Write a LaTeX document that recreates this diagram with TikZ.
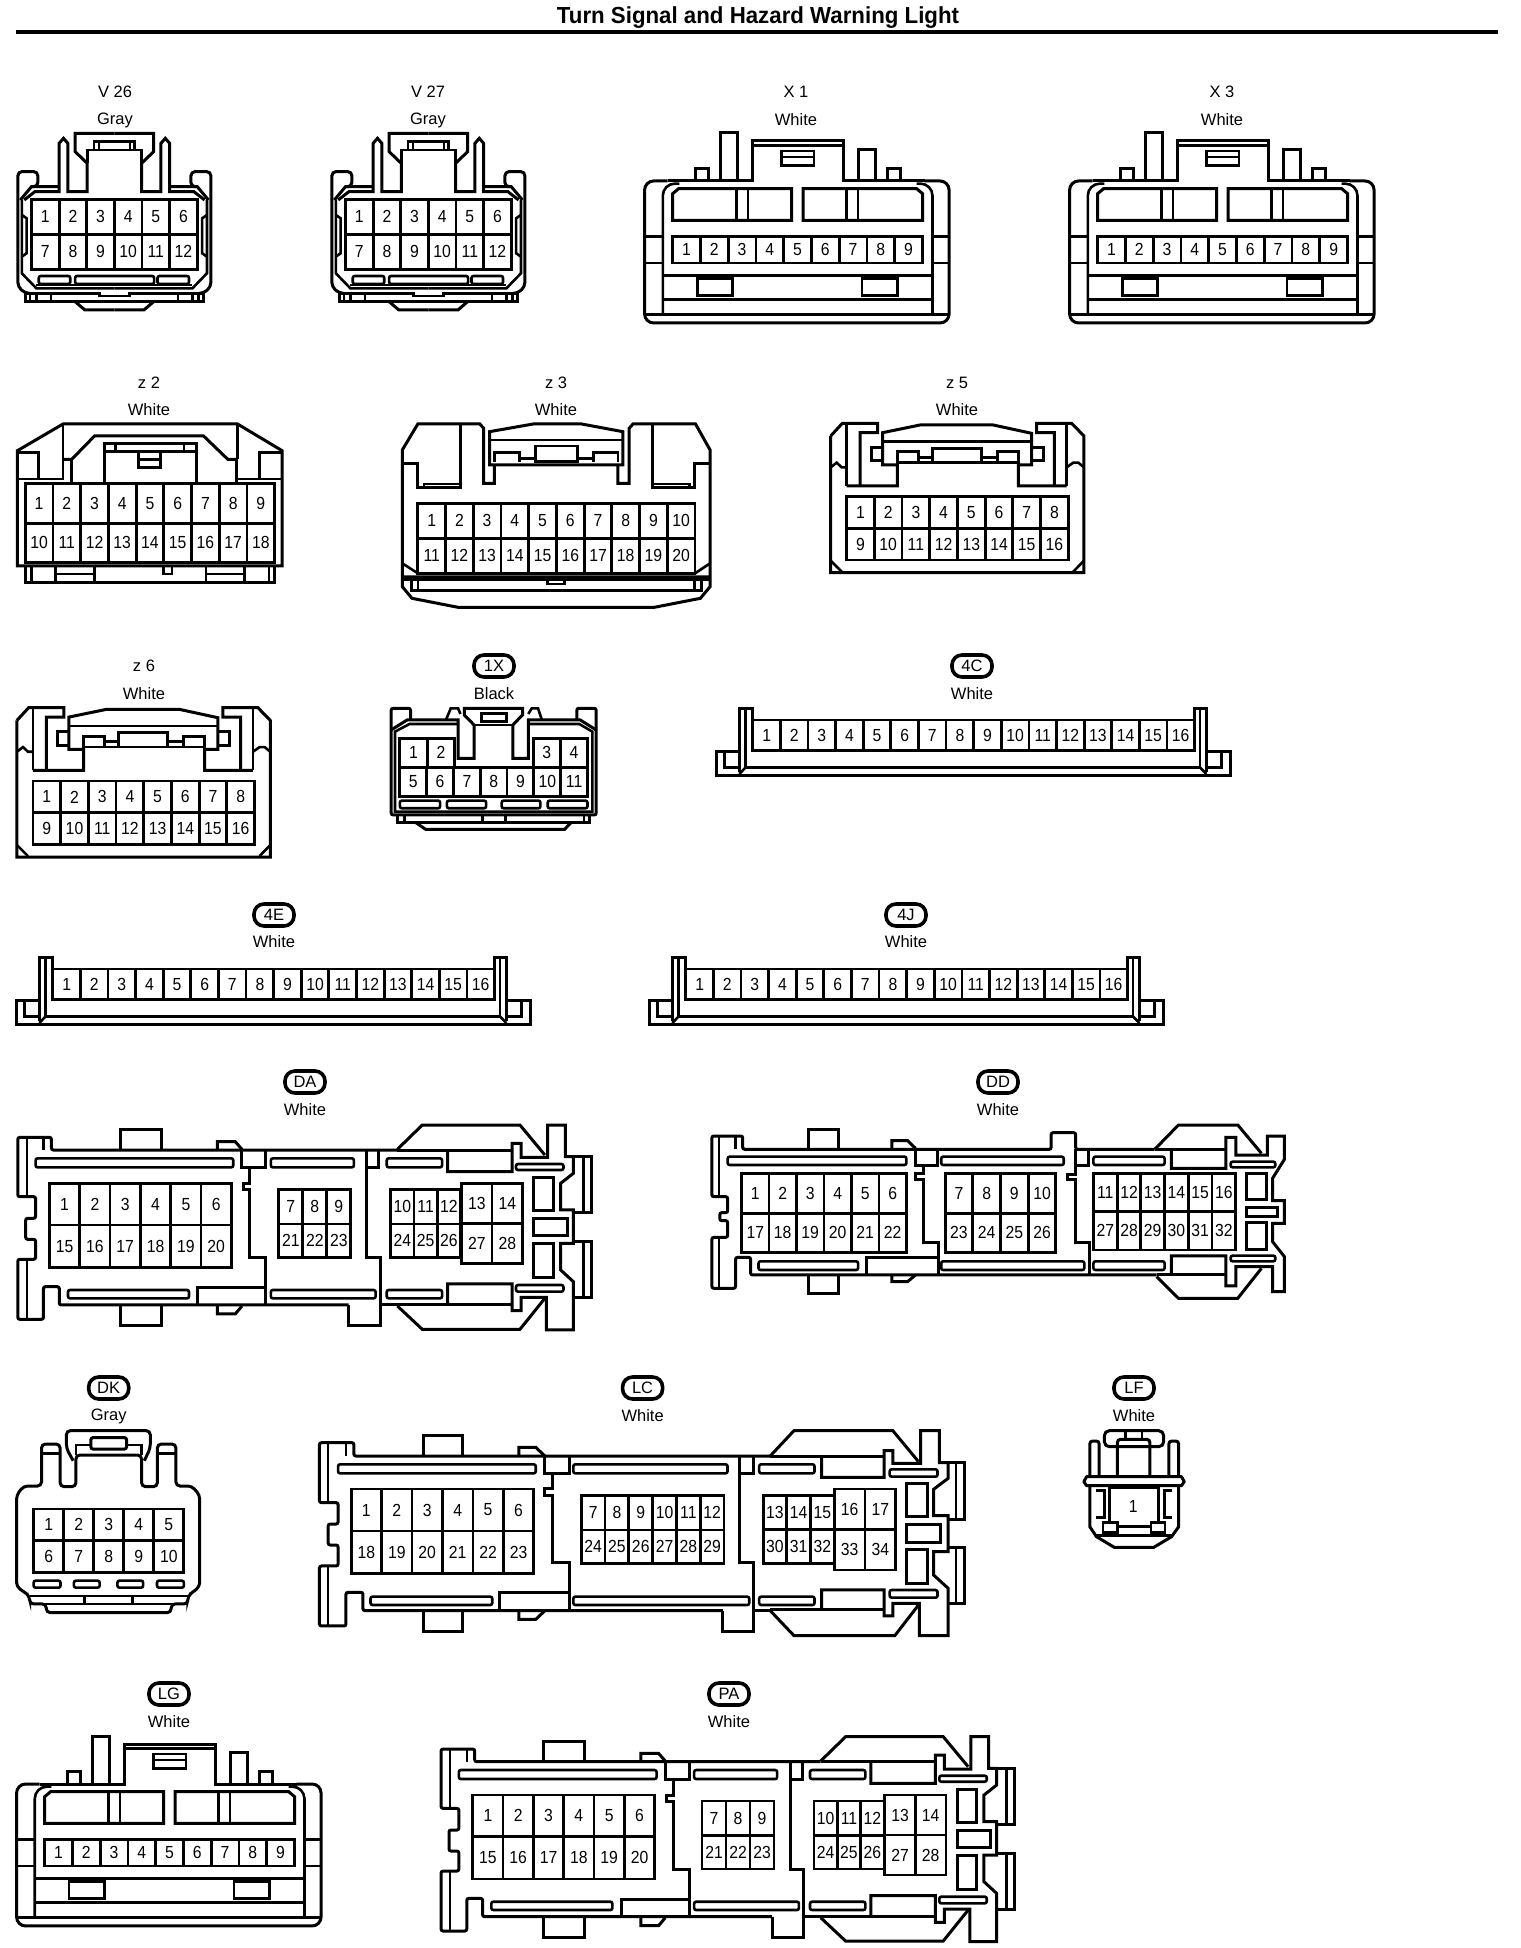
\documentclass[tikz,border=0pt]{standalone}
\usepackage{fontspec}
\setmainfont{Liberation Sans}
\newfontfamily\pinfont[FakeStretch=0.9]{Liberation Sans}
\newfontfamily\titlefont[FakeStretch=0.96]{Liberation Sans}
\usepackage{tikz}
\newcommand{\pinrow}[6]{%
  \foreach \col in {1,...,#5}{%
    \pgfmathtruncatemacro{\pn}{#6+\col-1}
    \draw[pinline] ({#1+(\col-1)*#4},#2) rectangle ({#1+\col*#4},#3);
    \node[pinno] (pin\pn) at ({#1+(\col-0.5)*#4},{(#2+#3)/2}) {\pn};
  }%
}
\newcommand{\slot}[4]{\draw[thin line,rounded corners=2pt] (#1,#2) rectangle (#3,#4);}
\tikzset{
  body/.style={draw=black, line width=3pt, line join=miter},
  thin line/.style={draw=black, line width=2.6pt},
  pinline/.style={draw=black, line width=2.8pt},
  pinno/.style={inner sep=0pt, font=\pinfont\fontsize{17.5}{18}\selectfont},
  lab/.style={inner sep=0pt, font=\fontsize{16.5}{17}\selectfont},
  badge/.style={lab, draw=black, line width=3.6pt, rounded corners=10pt, minimum width=40pt, minimum height=22pt},
  zooma/.style={x=0.4847pt, y=-0.3333pt},
  zoomb/.style={x=0.3954pt, y=-0.3333pt},
  zoomc/.style={x=0.3333pt, y=-0.3333pt},
  zoomd/.style={x=0.3571pt, y=-0.3333pt},
  % V 26, V 27
  pics/vconn/.style={code={
    \tikzset{zooma}
    \foreach \sx in {1,-1}{
      \begin{scope}[shift={(236,0)},xscale=\sx]
        \draw[body] (0,400) -- (-81,400) -- (-81,455) -- (-56,490) -- (-56,575) -- (-96,575) -- (-96,430)
          -- (-105,415) -- (-114,430) -- (-114,575) -- (-164,575) -- (-186,600);
        \draw[body] (-114,560) -- (-171,560) -- (-194,600);
        \draw[body,rounded corners=4pt] (-171,560) -- (-158,560) -- (-158,515) -- (-199,515) -- (-199,860) -- (-184,880) -- (-176,880);
        \draw[thin line] (-191,600) -- (-191,820) -- (-161,865) -- (0,865);
        \draw[thin line] (-191,645) -- (-181,655) -- (-181,760) -- (-191,770);
        \draw[thin line] (-161,855) -- (0,855);
        \draw[body] (-184,880) -- (-184,905) -- (0,905);
        \draw[thin line] (-184,880) -- (-31,880) -- (-31,888) -- (0,888);
        \draw[thin line] (-174,880) -- (-174,905) (-161,880) -- (-161,905) (-131,880) -- (-131,905);
        \draw[body] (-81,905) -- (-61,930) -- (0,930);
        \draw[thin line] (-56,490) -- (-56,450) -- (0,450);
        \draw[thin line] (-42,450) -- (-42,425) -- (0,425) (-32,450) -- (-32,425);
      \end{scope}
    }
    \slot{80}{828}{145}{852}
    \slot{155}{828}{318}{852}
    \slot{325}{828}{390}{852}
    \pinrow{65}{598}{703}{57}{6}{1}
    \pinrow{65}{703}{808}{57}{6}{7}
  }},
  % X 1, X 3, LG
  pics/xconn/.style={code={
    \tikzset{zoomb}
    \draw[body,rounded corners=9pt] (100,312) -- (42,312) -- (42,738) -- (812,738) -- (812,312) -- (750,312);
    \draw[body] (100,312) -- (316,312) -- (316,192) -- (546,192) -- (546,312) -- (750,312);
    \draw[thin line] (42,712) -- (812,712) (316,205) -- (546,205);
    \draw[thin line,rounded corners=12pt] (88,712) -- (88,320) -- (130,320);
    \draw[thin line,rounded corners=12pt] (770,712) -- (770,320) -- (730,320);
    \draw[thin line] (388,222) rectangle (470,266) (388,240) -- (470,240);
    \draw[body] (233,312) -- (233,168) -- (277,168) -- (277,312);
    \draw[body] (170,312) -- (170,275) -- (203,275) -- (203,312);
    \draw[body] (582,312) -- (582,218) -- (626,218) -- (626,312);
    \draw[body] (656,312) -- (656,275) -- (688,275) -- (688,312);
    \draw[body] (113,430) -- (113,350) -- (128,335) -- (414,335) -- (414,430) -- cycle;
    \draw[body] (443,335) -- (730,335) -- (745,350) -- (745,430) -- (443,430) -- cycle;
    \draw[thin line] (275,335) -- (275,430) (303,335) -- (303,430) (552,335) -- (552,430) (582,335) -- (582,430);
    \draw[thin line] (42,478) -- (88,478) (42,558) -- (88,558) (770,478) -- (812,478) (770,558) -- (812,558);
    \pinrow{113}{478}{558}{70.2}{9}{1}
    \draw[thin line] (88,595) -- (770,595) (88,668) -- (770,668);
    \draw[thin line] (175,605) rectangle (265,655) (592,605) rectangle (682,655);
  }},
  % z 2
  pics/ztwo/.style={code={
    \tikzset{zooma}
    \draw[body] (36,272) -- (130,192) -- (490,192) -- (582,272) -- (582,618) -- (36,618) -- cycle;
    \draw[thin line] (130,192) -- (130,357) -- (36,357) (490,192) -- (490,298) (488,357) -- (582,357);
    \draw[thin line] (36,278) -- (80,278) -- (80,357) (582,278) -- (535,278) -- (535,357);
    \draw[body] (130,298) -- (148,298) -- (195,228) -- (420,228) -- (470,298) -- (488,298);
    \draw[thin line] (148,298) -- (148,372) (488,298) -- (488,372);
    \draw[body] (215,365) -- (215,252) -- (405,252) -- (405,365);
    \draw[thin line] (215,275) -- (405,275) (238,252) -- (238,275) (380,252) -- (380,275);
    \draw[body] (285,280) -- (285,322) -- (332,322) -- (332,280) (285,300) -- (332,300);
    \pinrow{52}{370}{490}{57.2}{9}{1}
    \pinrow{52}{490}{607}{57.2}{9}{10}
    \draw[body] (52,618) -- (52,668) -- (567,668) -- (567,618);
    \draw[thin line] (65,618) -- (65,668) (115,618) -- (115,668) (195,618) -- (195,668)
      (115,642) -- (195,642) (425,618) -- (425,668) (505,618) -- (505,668) (425,642) -- (505,642) (555,618) -- (555,668);
    \draw[thin line] (337,618) -- (337,642) -- (355,642) -- (355,618);
  }},
  % z 3
  pics/zthree/.style={code={
    \tikzset{zooma}
    \draw[body] (1020,315) -- (1020,370) -- (998,370) -- (998,205) -- (990,192) -- (862,192) -- (830,270) -- (830,680) -- (850,715)
      -- (945,742) -- (1350,742) -- (1445,715) -- (1465,680) -- (1465,270) -- (1435,192) -- (1306,192) -- (1298,205) -- (1298,370) -- (1275,370) -- (1275,315);
    \draw[body] (1010,315) -- (1010,215) -- (1100,192) -- (1200,192) -- (1285,215) -- (1285,315) -- cycle;
    \draw[thin line] (1010,240) -- (1285,240);
    \draw[thin line] (1020,305) -- (1020,278) -- (1072,278) -- (1072,305) (1225,305) -- (1225,278) -- (1275,278) -- (1275,305)
      (1072,295) -- (1105,295) (1192,295) -- (1225,295) (1105,258) rectangle (1192,305);
    \draw[body] (830,310) -- (862,310) -- (862,383) -- (950,383) -- (950,195);
    \draw[body] (1465,310) -- (1433,310) -- (1433,383) -- (1347,383) -- (1347,195);
    \draw[thin line] (875,383) -- (875,372) -- (950,372) (1422,383) -- (1422,372) -- (1347,372);
    \pinrow{862}{430}{535}{57.2}{10}{1}
    \pinrow{862}{535}{640}{57.2}{10}{11}
    \draw[thin line] (830,610) -- (862,640) (1465,610) -- (1434,640) (830,650) -- (1465,650);
    \draw[body] (830,660) -- (1465,660);
    \draw[body] (848,660) -- (848,692) -- (1447,692) -- (1447,660);
    \draw[thin line] (862,660) -- (862,692) (1433,660) -- (1433,692);
    \draw[thin line] (1130,660) -- (1130,672) -- (1165,672) -- (1165,660);
  }},
  % z 5, z 6
  pics/zfive/.style={code={
    \tikzset{zoomc}
    \draw[body] (62,198) -- (97,160) -- (203,160) -- (203,188) -- (150,188) -- (150,348);
    \draw[body] (110,348) -- (262,348) -- (262,285) -- (218,285) -- (218,188) -- (330,165) -- (550,165) -- (665,190) -- (665,285) -- (625,285) -- (625,348) -- (770,348);
    \draw[body] (733,348) -- (733,188) -- (680,188) -- (680,160) -- (785,160) -- (822,198) -- (822,608) -- (62,608) -- (62,198);
    \draw[thin line] (110,165) -- (110,348) (770,165) -- (770,348) (218,215) -- (665,215);
    \draw[body] (218,232) -- (185,232) -- (185,272) -- (218,272) (665,232) -- (700,232) -- (700,272) -- (665,272);
    \draw[body] (262,285) -- (262,245) -- (325,245) -- (325,278) (368,278) -- (368,235) -- (515,235) -- (515,278) (562,278) -- (562,245) -- (625,245) -- (625,285);
    \draw[thin line] (262,278) -- (625,278) (325,262) -- (368,262) (515,262) -- (562,262);
    \draw[thin line] (62,292) -- (80,278) -- (95,292) -- (110,292) (770,292) -- (790,278) -- (805,278) -- (822,292);
    \draw[thin line] (62,572) -- (95,605) (822,572) -- (790,605);
    \pinrow{110}{380}{475}{83.1}{8}{1}
    \pinrow{110}{475}{570}{83.1}{8}{9}
  }},
  % 1X
  pics/onex/.style={code={
    \tikzset{zooma}
    \draw[body,rounded corners=2pt] (847,1080) -- (847,1045) -- (807,1045) -- (807,1365) -- (1230,1365) -- (1230,1045) -- (1190,1045) -- (1190,1080);
    \draw[body] (807,1110) -- (840,1080) -- (945,1080) -- (945,1195) -- (978,1195) -- (978,1095) -- (958,1065) -- (958,1045) -- (1078,1045) -- (1078,1065) -- (1058,1095) -- (1058,1195) -- (1090,1195) -- (1090,1080) -- (1197,1080) -- (1230,1110);
    \draw[thin line] (920,1080) -- (930,1045) -- (945,1045) -- (950,1062) (1090,1062) -- (1097,1045) -- (1110,1045) -- (1118,1080);
    \draw[thin line] (945,1092) -- (845,1092) -- (815,1115) -- (815,1355) -- (1222,1355) -- (1222,1115) -- (1195,1092) -- (1090,1092);
    \draw[thin line] (993,1060) rectangle (1045,1085) (978,1095) -- (1058,1095);
    \pinrow{825}{1135}{1222}{56.5}{2}{1}
    \pinrow{1100}{1135}{1222}{56}{2}{3}
    \pinrow{825}{1222}{1310}{55.3}{7}{5}
    \slot{825}{1322}{908}{1345}
    \slot{922}{1322}{1003}{1345}
    \slot{1035}{1322}{1115}{1345}
    \slot{1130}{1322}{1212}{1345}
    \draw[body] (820,1365) -- (820,1388) -- (1217,1388) -- (1217,1365);
    \draw[thin line] (835,1365) -- (835,1388) (1205,1365) -- (1205,1388) (995,1365) -- (995,1388) (1043,1365) -- (1043,1388);
    \draw[body] (858,1388) -- (878,1408) -- (1165,1408) -- (1178,1388);
  }},
  % 4C, 4E, 4J
  pics/stripconn/.style={code={
    \tikzset{zoomd}
    \pinrow{148}{210}{302}{77.3}{16}{1}
    \draw[body] (110,365) -- (110,175) -- (148,175) -- (148,210) (1385,210) -- (1385,175) -- (1418,175) -- (1418,365);
    \draw[thin line] (128,175) -- (128,352) (1400,175) -- (1400,352);
    \draw[body] (110,305) -- (45,305) -- (45,377) -- (1485,377) -- (1485,305) -- (1418,305);
    \draw[thin line] (68,305) -- (68,352) -- (110,352) (1460,305) -- (1460,352) -- (1418,352);
    \draw[body] (128,352) -- (1400,352);
    \draw[thin line] (110,372) -- (128,352) (1418,372) -- (1400,352);
  }},
  % DA, PA
  pics/daconn/.style={code={
    \tikzset{zoomb}
    \draw[body,rounded corners=2pt] (1005,270) -- (130,270) -- (130,232) -- (45,232) -- (45,410) -- (90,410) -- (90,475) -- (65,475) -- (65,538) -- (90,538) -- (90,598) -- (45,598) -- (45,778) -- (110,778) -- (110,680) -- (150,680) -- (150,735) -- (882,735);
    \draw[body] (882,735) -- (882,798) -- (962,798) -- (962,735) -- (1005,735);
    \draw[thin line] (68,232) -- (68,410) (68,598) -- (68,778) (110,232) -- (110,270);
    \draw[body] (305,270) -- (305,208) -- (408,208) -- (408,270) (305,735) -- (305,798) -- (408,798) -- (408,735);
    \draw[body] (550,270) -- (550,245) -- (595,245) -- (612,268) (550,735) -- (550,762) -- (595,762) -- (612,738);
    \slot{90}{295}{590}{322}
    \slot{172}{690}{478}{715}
    \slot{685}{295}{895}{322}
    \slot{685}{690}{950}{715}
    \slot{978}{295}{1118}{322}
    \slot{978}{690}{1118}{715}
    \pinrow{125}{370}{495}{76.7}{6}{1}
    \pinrow{125}{495}{622}{76.7}{6}{15}
    \pinrow{705}{388}{492}{60.7}{3}{7}
    \pinrow{705}{492}{592}{60.7}{3}{21}
    \pinrow{988}{388}{492}{59}{3}{10}
    \pinrow{988}{492}{592}{59}{3}{24}
    \pinrow{1167}{370}{490}{77.5}{2}{13}
    \pinrow{1167}{490}{610}{77.5}{2}{27}
    \draw[body] (612,270) -- (612,322) -- (632,322) -- (632,370) -- (615,370) -- (615,388) -- (632,388) -- (632,592) -- (672,592) -- (672,735);
    \draw[body] (672,270) -- (672,322) -- (612,322) (500,735) -- (500,682) -- (672,682);
    \draw[body] (928,270) -- (928,592) -- (962,592) -- (962,735) (958,270) -- (958,322) -- (928,322);
    \draw[body] (1005,268) -- (1068,195) -- (1315,195) -- (1378,285);
    \draw[body] (1005,738) -- (1068,808) -- (1315,808) -- (1378,715);
    \draw[body] (1132,270) -- (1132,335) -- (1295,335) -- (1295,250) -- (1318,250) -- (1318,292) -- (1385,292) -- (1385,195) -- (1430,195) -- (1430,290) -- (1450,290) -- (1450,340) -- (1418,370) -- (1418,450) -- (1450,450) -- (1450,550) -- (1418,550) -- (1418,630) -- (1450,665) -- (1450,810) -- (1382,810) -- (1382,712) -- (1318,712) -- (1318,752) -- (1295,752) -- (1295,672) -- (1132,672) -- (1132,735);
    \draw[body] (1005,270) -- (1295,270) (1005,735) -- (1295,735);
    \draw[body] (1450,290) -- (1495,290) -- (1495,458) -- (1450,458) (1450,545) -- (1495,545) -- (1495,712) -- (1450,712);
    \draw[thin line] (1475,290) -- (1475,458) (1475,545) -- (1475,712);
    \slot{1305}{312}{1425}{330}
    \slot{1305}{675}{1425}{695}
    \draw[body] (1350,352) rectangle (1400,452) (1350,475) rectangle (1435,528) (1350,550) rectangle (1400,652);
  }},
  % DD
  pics/ddconn/.style={code={
    \tikzset{zoomb}
    \draw[body,rounded corners=2pt] (1150,268) -- (950,268) -- (950,218) -- (888,218) -- (888,268) -- (108,268) -- (108,228) -- (30,228) -- (30,410) -- (70,410) -- (70,458) -- (50,458) -- (50,482) -- (70,482) -- (70,532) -- (30,532) -- (30,685) -- (90,685) -- (90,592) -- (128,592) -- (128,645) -- (1155,645);
    \draw[thin line] (48,228) -- (48,410) (48,532) -- (48,685) (90,228) -- (90,268);
    \draw[body] (275,268) -- (275,208) -- (350,208) -- (350,268) (275,645) -- (275,702) -- (350,702) -- (350,645);
    \draw[body] (485,268) -- (485,242) -- (525,242) -- (545,265) (485,645) -- (485,665) -- (525,665) -- (545,645);
    \slot{70}{290}{522}{315}
    \slot{148}{604}{400}{630}
    \slot{610}{290}{920}{315}
    \slot{610}{604}{972}{630}
    \slot{995}{290}{1175}{315}
    \slot{995}{604}{1175}{630}
    \pinrow{105}{340}{460}{69.5}{6}{1}
    \pinrow{105}{460}{577}{69.5}{6}{17}
    \pinrow{620}{340}{460}{70}{4}{7}
    \pinrow{620}{460}{577}{70}{4}{23}
    \pinrow{995}{340}{455}{60}{6}{11}
    \pinrow{995}{455}{570}{60}{6}{27}
    \draw[body] (545,268) -- (545,315) -- (600,315) -- (600,268) (565,315) -- (565,340) -- (545,340) -- (545,358) -- (565,358) -- (565,548) -- (602,548) -- (602,645) (420,645) -- (420,592) -- (602,592);
    \draw[body] (950,268) -- (950,342) -- (930,342) -- (930,358) -- (950,358) -- (950,548) -- (985,548) -- (985,645) (982,268) -- (982,315) -- (950,315);
    \draw[body] (1150,268) -- (1210,195) -- (1360,195) -- (1420,280);
    \draw[body] (1155,650) -- (1210,715) -- (1360,715) -- (1420,625);
    \draw[body] (1192,268) -- (1192,325) -- (1330,325) -- (1330,232) -- (1355,232) -- (1355,285) -- (1435,285) -- (1435,228) -- (1478,228) -- (1478,298) -- (1448,355) -- (1448,422) -- (1478,422) -- (1478,490) -- (1448,490) -- (1448,545) -- (1478,590) -- (1478,695) -- (1448,695) -- (1448,620) -- (1355,620) -- (1355,678) -- (1330,678) -- (1330,588) -- (1192,588) -- (1192,645);
    \draw[body] (1150,268) -- (1330,268) (1155,645) -- (1330,645);
    \slot{1342}{305}{1455}{322}
    \slot{1342}{587}{1455}{604}
    \draw[body] (1382,340) rectangle (1432,420) (1382,442) rectangle (1460,470) (1382,488) rectangle (1432,568);
  }},
  % DK
  pics/dkconn/.style={code={
    \tikzset{zoomb}
    \draw[body,rounded corners=4pt] (42,375) -- (60,348) -- (105,348) -- (105,222) -- (152,222) -- (152,350) -- (192,350) -- (192,255) -- (358,255) -- (358,350) -- (398,350) -- (398,222) -- (445,222) -- (445,348) -- (485,348) -- (505,375) -- (505,650) -- (475,678) -- (475,702) -- (433,702) -- (433,728) -- (117,728) -- (117,702) -- (75,702) -- (75,678) -- (42,650) -- cycle;
    \draw[thin line] (75,678) -- (475,678) (75,702) -- (475,702) (213,680) -- (213,700) (335,680) -- (335,700);
    \draw[thin line] (105,250) -- (152,250) (398,250) -- (445,250);
    \draw[body,rounded corners=4pt] (185,272) -- (168,235) -- (168,182) -- (380,182) -- (380,235) -- (365,272);
    \draw[thin line] (192,255) -- (192,225) -- (230,225) (320,225) -- (358,225) -- (358,255);
    \draw[body,rounded corners=2pt] (230,203) rectangle (320,237);
    \pinrow{85}{417}{512}{76}{5}{1}
    \pinrow{85}{512}{607}{76}{5}{6}
    \slot{85}{632}{153}{653}
    \slot{187}{632}{252}{653}
    \slot{297}{632}{362}{653}
    \slot{397}{632}{465}{653}
  }},
  % LC
  pics/lcconn/.style={code={
    \tikzset{zoomb}
    \draw[body,rounded corners=2pt] (1948,258) -- (895,258) -- (895,218) -- (808,218) -- (808,398) -- (855,398) -- (855,462) -- (830,462) -- (830,525) -- (855,525) -- (855,588) -- (808,588) -- (808,768) -- (875,768) -- (875,667) -- (918,667) -- (918,722) -- (1828,722);
    \draw[body] (1828,722) -- (1828,785) -- (1906,785) -- (1906,722) -- (1948,722);
    \draw[thin line] (830,218) -- (830,398) (830,588) -- (830,768) (875,218) -- (875,258);
    \draw[body] (1072,258) -- (1072,195) -- (1170,195) -- (1170,258) (1072,722) -- (1072,785) -- (1170,785) -- (1170,722);
    \draw[body] (1312,258) -- (1312,232) -- (1355,232) -- (1378,258) (1312,722) -- (1312,748) -- (1355,748) -- (1378,722);
    \slot{855}{283}{1355}{310}
    \slot{937}{680}{1245}{705}
    \slot{1450}{283}{1840}{310}
    \slot{1450}{680}{1895}{705}
    \slot{1920}{283}{2060}{310}
    \slot{1920}{680}{2060}{705}
    \pinrow{888}{357}{483}{77}{6}{1}
    \pinrow{888}{483}{610}{77}{6}{18}
    \pinrow{1470}{377}{480}{60.2}{6}{7}
    \pinrow{1470}{480}{580}{60.2}{6}{24}
    \pinrow{1930}{377}{478}{60}{3}{13}
    \pinrow{1930}{478}{580}{60}{3}{30}
    \pinrow{2110}{357}{478}{77.5}{2}{16}
    \pinrow{2110}{478}{600}{77.5}{2}{33}
    \draw[body] (1378,258) -- (1378,310) -- (1440,310) -- (1440,258) (1398,310) -- (1398,355) -- (1378,355) -- (1378,377) -- (1398,377) -- (1398,578) -- (1440,578) -- (1440,722) (1262,722) -- (1262,667) -- (1440,667);
    \draw[body] (1870,258) -- (1870,578) -- (1906,578) -- (1906,722) (1906,258) -- (1906,310) -- (1870,310);
    \draw[body] (1948,258) -- (2008,182) -- (2258,182) -- (2323,275);
    \draw[body] (1948,722) -- (2008,797) -- (2263,797) -- (2323,705);
    \draw[body] (2078,258) -- (2078,322) -- (2236,322) -- (2236,242) -- (2258,242) -- (2258,280) -- (2328,280) -- (2328,182) -- (2376,182) -- (2376,278) -- (2398,278) -- (2398,325) -- (2361,358) -- (2361,437) -- (2398,437) -- (2398,545) -- (2361,545) -- (2361,615) -- (2398,655) -- (2398,797) -- (2325,797) -- (2325,700) -- (2258,700) -- (2258,738) -- (2236,738) -- (2236,660) -- (2078,660) -- (2078,722);
    \draw[body] (1948,258) -- (2236,258) (1948,718) -- (2236,718);
    \draw[body] (2398,278) -- (2440,278) -- (2440,448) -- (2398,448) (2398,532) -- (2440,532) -- (2440,702) -- (2398,702);
    \draw[thin line] (2418,278) -- (2418,448) (2418,532) -- (2418,702);
    \slot{2250}{298}{2371}{320}
    \slot{2250}{660}{2371}{683}
    \draw[body] (2293,340) rectangle (2345,440) (2293,463) rectangle (2378,517) (2293,538) rectangle (2345,640);
  }},
  % LF
  pics/lfconn/.style={code={
    \tikzset{zoomb}
    \draw[body,rounded corners=5pt] (1225,230) -- (1225,182) -- (1375,182) -- (1375,230) -- cycle;
    \draw[thin line] (1278,182) -- (1278,205) (1320,182) -- (1320,205);
    \draw[body,rounded corners=3pt] (1258,315) -- (1258,208) -- (1340,208) -- (1340,315);
    \draw[body,rounded corners=3pt] (1188,320) -- (1188,213) -- (1212,213) -- (1212,320) (1388,320) -- (1388,213) -- (1413,213) -- (1413,320);
    \draw[body,line join=round] (1180,320) -- (1420,320) -- (1427,335) -- (1420,347) -- (1180,347) -- (1173,335) -- cycle;
    \draw[body] (1188,347) -- (1188,470) -- (1205,500) -- (1250,532) -- (1350,532) -- (1395,500) -- (1413,470) -- (1413,347);
    \draw[body] (1237,458) -- (1237,352) -- (1363,352) -- (1363,458);
    \draw[thin line] (1222,458) rectangle (1258,488) (1343,458) rectangle (1378,488) (1258,470) -- (1343,470) (1205,497) -- (1395,497);
    \draw[thin line] (1205,362) -- (1225,362) -- (1225,443) -- (1205,443) (1397,362) -- (1377,362) -- (1377,443) -- (1397,443);
    \node[pinno] (pin1) at (1298,410) {1};
  }},
}
\begin{document}
\begin{tikzpicture}[x=1pt,y=-1pt]
  \fill[white] (0,0) rectangle (1520,1948);
  \useasboundingbox (0,0) rectangle (1520,1948);

  % heading
  \node[inner sep=0pt,font=\titlefont\fontsize{23.2}{23}\selectfont\bfseries] (title) at (758,18) {Turn Signal and Hazard Warning Light};
  \draw[line width=4pt] (16,32) coordinate (ruleL) -- (1498,32) coordinate (ruleR);

  % first row
  \pic (Vsix) at (0,0) {vconn};
  \pic (Vseven) at (314,0) {vconn};
  \pic (Xone) at (628,77) {xconn};
  \pic (Xthree) at (1053,77) {xconn};
  \node[lab] (Vsixname) at (115,92) {V 26};
  \node[lab] (Vsixcol) at (115,120) {Gray};
  \node[lab] (Vsevenname) at (428,92) {V 27};
  \node[lab] (Vsevencol) at (428,120) {Gray};
  \node[lab] (Xonename) at (796,92) {X 1};
  \node[lab] (Xonecol) at (796,120) {White};
  \node[lab] (Xthreename) at (1222,92) {X 3};
  \node[lab] (Xthreecol) at (1222,120) {White};

  % second row
  \pic (Ztwo) at (0,360) {ztwo};
  \pic (Zthree) at (0,360) {zthree};
  \pic (Zfive) at (810,370) {zfive};
  \node[lab] (Ztwoname) at (149,383) {z 2};
  \node[lab] (Ztwocol) at (149,410) {White};
  \node[lab] (Zthreename) at (556,383) {z 3};
  \node[lab] (Zthreecol) at (556,410) {White};
  \node[lab] (Zfivename) at (957,383) {z 5};
  \node[lab] (Zfivecol) at (957,410) {White};

  % third row
  \pic (Zsix) at (-3.7,654.4) {zfive};
  \pic (Onex) at (0,360) {onex};
  \pic (Fourc) at (700,650) {stripconn};
  \node[lab] (Zsixname) at (144,666) {z 6};
  \node[lab] (Zsixcol) at (144,693.5) {White};
  \node[badge] (Onexname) at (494,666) {1X};
  \node[lab] (Onexcol) at (494,693.5) {Black};
  \node[badge] (Fourcname) at (972,666) {4C};
  \node[lab] (Fourccol) at (972,693.5) {White};

  % fourth row
  \pic (Foure) at (0,899) {stripconn};
  \pic (Fourj) at (633,899) {stripconn};
  \node[badge] (Fourename) at (274,915) {4E};
  \node[lab] (Fourecol) at (274,942) {White};
  \node[badge] (Fourjname) at (906,915) {4J};
  \node[lab] (Fourjcol) at (906,942) {White};

  % fifth row
  \pic (Da) at (0,1060) {daconn};
  \pic (Dd) at (700,1060) {ddconn};
  \node[badge] (Daname) at (305,1082) {DA};
  \node[lab] (Dacol) at (305,1110) {White};
  \node[badge] (Ddname) at (998,1082) {DD};
  \node[lab] (Ddcol) at (998,1110) {White};

  % sixth row
  \pic (Dk) at (0,1370) {dkconn};
  \pic (Lc) at (0,1370) {lcconn};
  \pic (Lf) at (620,1370) {lfconn};
  \node[badge] (Dkname) at (108.7,1388) {DK};
  \node[lab] (Dkcol) at (108.7,1416) {Gray};
  \node[badge] (Lcname) at (642.6,1388) {LC};
  \node[lab] (Lccol) at (642.6,1416) {White};
  \node[badge] (Lfname) at (1134,1388) {LF};
  \node[lab] (Lfcol) at (1134,1416) {White};

  % last row
  \pic (Lg) at (0,1680) {xconn};
  \pic (Pa) at (423.3,1671.7) {daconn};
  \node[badge] (Lgname) at (169,1694) {LG};
  \node[lab] (Lgcol) at (169,1722) {White};
  \node[badge] (Paname) at (729,1694) {PA};
  \node[lab] (Pacol) at (729,1722) {White};
\end{tikzpicture}
\end{document}
